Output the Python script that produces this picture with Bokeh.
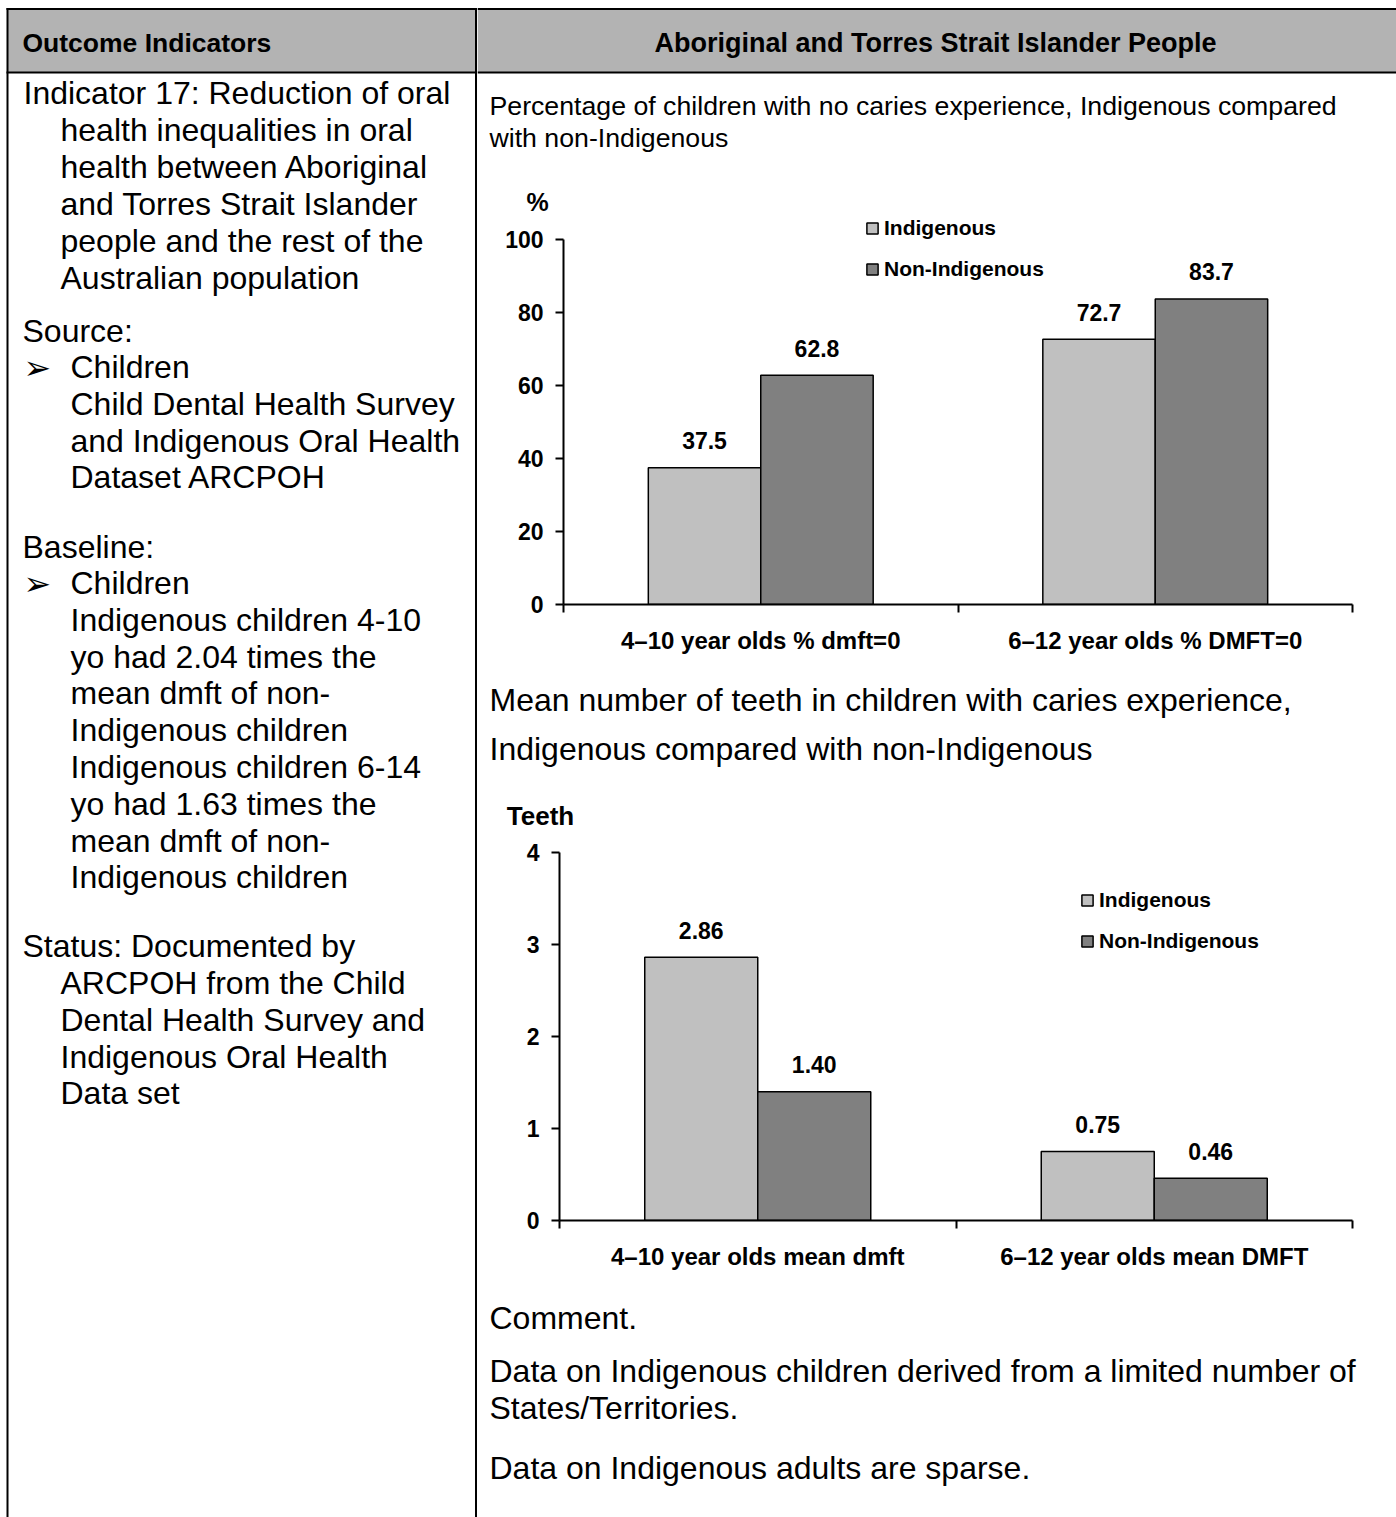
from bokeh.plotting import figure
from bokeh.models import (Range1d, LinearAxis, FixedTicker, Legend, LegendItem)
from bokeh.layouts import row, column
from bokeh.embed import file_html
from bokeh.resources import INLINE
from bokeh.core.properties import value

# ---------------- data ----------------
groups = ["Indigenous", "Non-Indigenous"]

chart1_categories = ["4–10 year olds % dmft=0", "6–12 year olds % DMFT=0"]
chart1_indigenous = [37.5, 72.7]
chart1_non_indigenous = [62.8, 83.7]
chart1_yticks = [0, 20, 40, 60, 80, 100]

chart2_categories = ["4–10 year olds mean dmft", "6–12 year olds mean DMFT"]
chart2_indigenous = [2.86, 0.75]
chart2_non_indigenous = [1.40, 0.46]
chart2_yticks = [0, 1, 2, 3, 4]

header_left = "Outcome Indicators"
header_right = "Aboriginal and Torres Strait Islander People"
chart1_title = ["Percentage of children with no caries experience, Indigenous compared",
                "with non-Indigenous"]
chart1_ylabel = "%"
chart2_title = ["Mean number of teeth in children with caries experience,",
                "Indigenous compared with non-Indigenous"]
chart2_ylabel = "Teeth"
comment_lines = ["Comment.",
                 "Data on Indigenous children derived from a limited number of",
                 "States/Territories.",
                 "Data on Indigenous adults are sparse."]
left_lines = [
    "Indicator 17: Reduction of oral",
    "health inequalities in oral",
    "health between Aboriginal",
    "and Torres Strait Islander",
    "people and the rest of the",
    "Australian population",
    "Source:",
    "Children",
    "Child Dental Health Survey",
    "and Indigenous Oral Health",
    "Dataset ARCPOH",
    "Baseline:",
    "Children",
    "Indigenous children 4-10",
    "yo had 2.04 times the",
    "mean dmft of non-",
    "Indigenous children",
    "Indigenous children 6-14",
    "yo had 1.63 times the",
    "mean dmft of non-",
    "Indigenous children",
    "Status: Documented by",
    "ARCPOH from the Child",
    "Dental Health Survey and",
    "Indigenous Oral Health",
    "Data set",
]

# ---------------- layout / style ----------------
FONT = "Liberation Sans"
HEADER_BG = "#B3B3B3"
IND_COLOR = "#C0C0C0"
NON_COLOR = "#808080"
BIG = "32px"
W, H = 1396, 1517
DIV = 477

left_x = [23, 60, 60, 60, 60, 60, 22, 70, 70, 70, 70, 22] + [70] * 9 + [22, 60, 60, 60, 60]
left_y = [92, 129, 166, 203, 240, 277, 330, 366, 403, 440, 476, 546,
          582, 619, 656, 692, 729, 766, 803, 840, 876,
          945, 982, 1019, 1056, 1092]
bullet_y = [367, 583]


def no_align(p):
    if "frame_align" in p.properties():
        p.frame_align = False


def panel(x0, x1, y0, y1):
    p = figure(width=int(x1 - x0), height=int(y1 - y0),
               x_range=Range1d(x0, x1), y_range=Range1d(y1, y0),
               x_axis_type=None, y_axis_type=None,
               output_backend="svg", toolbar_location=None, min_border=0)
    p.outline_line_color = None
    p.background_fill_color = "white"
    p.border_fill_color = "white"
    no_align(p)
    return p


def put_text(p, xs, ys, texts, size, bold=False, align="left", font=FONT):
    p.text(x=xs, y=ys, text=texts, text_font=value(font), text_font_size=size,
           text_font_style="bold" if bold else "normal", text_align=align,
           text_baseline="middle", text_color="black")


# ---- left column ----
left = panel(0, DIV, 0, H)
left.quad(left=[7], right=[DIV], top=[8], bottom=[72], fill_color=HEADER_BG, line_color=None)
left.segment(x0=[6, 6, 7, 475.5], y0=[8.5, 72, 7.5, 7.5], x1=[DIV, DIV, 7, 475.5], y1=[8.5, 72, H, H],
             line_color="black", line_width=2)
put_text(left, [22], [42], [header_left], "26.5px", bold=True)
put_text(left, left_x, left_y, left_lines, BIG)
put_text(left, [23, 23], bullet_y, ["➢", "➢"], "33px", font="DejaVu Sans")

# ---- right column: header + chart 1 title ----
TOP1 = 216
rt = panel(DIV, W, 0, TOP1)
rt.quad(left=[DIV], right=[W], top=[8], bottom=[72], fill_color=HEADER_BG, line_color=None)
rt.segment(x0=[DIV, DIV], y0=[8.5, 72], x1=[W, W], y1=[8.5, 72], line_color="black", line_width=2)
put_text(rt, [935], [42], [header_right], "27px", bold=True, align="center")
put_text(rt, [489, 489], [105, 137], chart1_title, "26.7px")
put_text(rt, [537], [201], [chart1_ylabel], "25px", bold=True, align="center")


def make_chart(cats, ind, non, yticks, yend, fmt, legend_loc,
               height, b_top, b_bottom, b_left, b_right):
    n = len(cats)
    p = figure(width=W - DIV, height=height, x_range=Range1d(0, n), y_range=Range1d(0, yend),
               x_axis_type=None, y_axis_type=None, output_backend="svg",
               toolbar_location=None, min_border_top=b_top, min_border_bottom=b_bottom,
               min_border_left=b_left, min_border_right=b_right)
    p.outline_line_color = None
    p.background_fill_color = "white"
    p.border_fill_color = "white"
    no_align(p)

    bw = 0.285
    x_ind = [i + 0.5 - bw / 2 for i in range(n)]
    x_non = [i + 0.5 + bw / 2 for i in range(n)]
    r1 = p.vbar(x=x_ind, top=ind, bottom=0, width=bw, fill_color=IND_COLOR,
                line_color="black", line_width=1.5)
    r2 = p.vbar(x=x_non, top=non, bottom=0, width=bw, fill_color=NON_COLOR,
                line_color="black", line_width=1.5)
    for xs, vals in ((x_ind, ind), (x_non, non)):
        p.text(x=xs, y=vals, text=[fmt.format(v) for v in vals], y_offset=-27,
               text_font=value(FONT), text_font_size="23px", text_font_style="bold",
               text_align="center", text_baseline="middle", text_color="black")

    yaxis = LinearAxis(ticker=FixedTicker(ticks=yticks, minor_ticks=[]),
                       bounds=(yticks[0], yticks[-1]))
    yaxis.axis_line_width = 2
    yaxis.axis_line_color = "black"
    yaxis.major_tick_out = 8
    yaxis.major_tick_in = 0
    yaxis.major_tick_line_width = 2
    yaxis.major_label_standoff = 12
    yaxis.major_label_text_font = FONT
    yaxis.major_label_text_font_style = "bold"
    yaxis.major_label_text_font_size = "23px"
    yaxis.major_label_text_color = "black"
    p.add_layout(yaxis, "left")

    centers = [i + 0.5 for i in range(n)]
    xaxis = LinearAxis(ticker=FixedTicker(ticks=centers, minor_ticks=list(range(n + 1))))
    xaxis.major_label_overrides = {c: lab for c, lab in zip(centers, cats)}
    xaxis.axis_line_width = 2
    xaxis.axis_line_color = "black"
    xaxis.major_tick_out = 0
    xaxis.major_tick_in = 0
    xaxis.minor_tick_out = 8
    xaxis.minor_tick_in = 0
    xaxis.minor_tick_line_width = 2
    xaxis.minor_tick_line_color = "black"
    xaxis.major_label_standoff = 14
    xaxis.major_label_text_font = FONT
    xaxis.major_label_text_font_style = "bold"
    xaxis.major_label_text_font_size = "24px"
    xaxis.major_label_text_color = "black"
    p.add_layout(xaxis, "below")

    legend = Legend(items=[LegendItem(label=groups[0], renderers=[r1]),
                           LegendItem(label=groups[1], renderers=[r2])],
                    location=legend_loc, orientation="vertical",
                    background_fill_alpha=0, border_line_color=None,
                    padding=0, margin=0, spacing=17, glyph_width=14, glyph_height=14,
                    label_standoff=5, label_height=22, label_text_font=FONT,
                    label_text_font_style="bold", label_text_font_size="21px",
                    label_text_color="black")
    p.add_layout(legend)
    return p


# chart 1: frame TOP1..604 (0 at 604, 100 at 239)
chart1 = make_chart(chart1_categories, chart1_indigenous, chart1_non_indigenous,
                    chart1_yticks, 100 * (604 - TOP1) / 365, "{:.1f}", (302, 323),
                    670 - TOP1, 0, 66, 86, 44)

mid = panel(DIV, W, 670, 830)
put_text(mid, [489, 489], [699, 748], chart2_title, BIG)
put_text(mid, [540], [815], [chart2_ylabel], "26px", bold=True, align="center")

# chart 2: frame 830..1220 (0 at 1220, 4 at 852)
chart2 = make_chart(chart2_categories, chart2_indigenous, chart2_non_indigenous,
                    chart2_yticks, 4.239, "{:.2f}", (521, 267),
                    460, 0, 70, 82, 44)

bot = panel(DIV, W, 1290, H)
put_text(bot, [489] * 4, [1317, 1370, 1407, 1467], comment_lines, BIG)

layout = row(left, column(rt, chart1, mid, chart2, bot))

open("out.html", "w").write(file_html(layout, INLINE))
